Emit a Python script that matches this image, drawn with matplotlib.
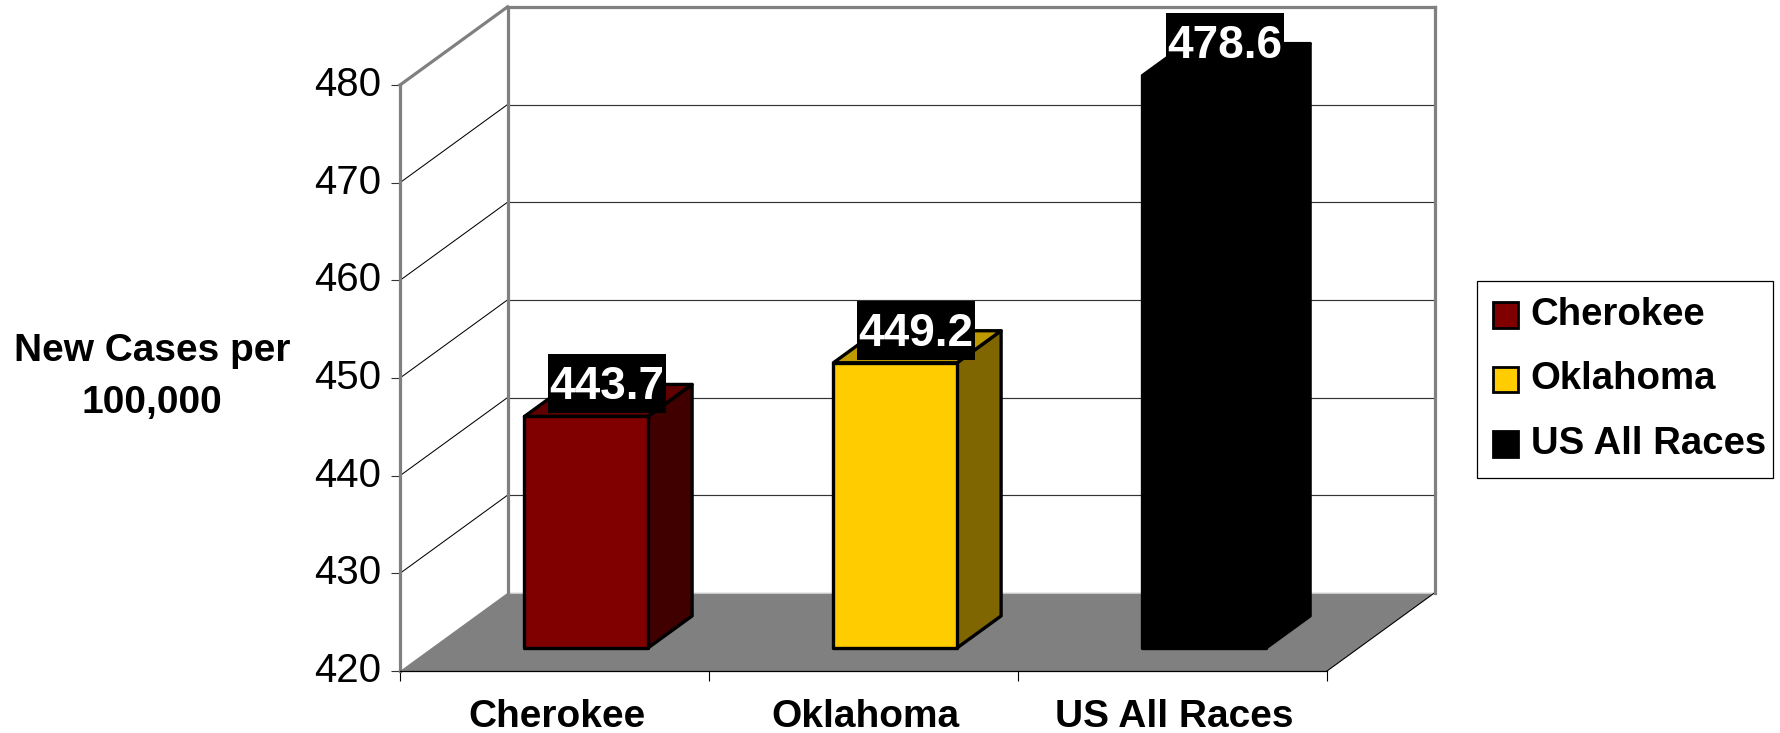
import matplotlib
matplotlib.use("Agg")
import matplotlib.pyplot as plt
from matplotlib.patches import Patch, Polygon
from matplotlib.path import Path
from matplotlib.transforms import ScaledTranslation

categories = ["Cherokee", "Oklahoma", "US All Races"]
values = [443.7, 449.2, 478.6]
y_ticks = [420, 430, 440, 450, 460, 470, 480]

front_colors = ["#800000", "#FFCC00", "#000000"]
side_colors = ["#400000", "#806600", "#000000"]
top_colors = ["#600000", "#BF9900", "#000000"]

# the fake 3D: how far the back of the box shifts, in data units
DEPTH_X = 0.348
DEPTH_Y = 8.0
BAR_WIDTH = 0.4
BAR_D0 = 0.295
BAR_D1 = 0.705

WALL = "#808080"
FONT = "Liberation Sans"

plt.rcParams["font.family"] = FONT


def project(x, v, d):
    """Category position, value and depth (0 front, 1 back) to data coordinates."""
    return x + d * DEPTH_X, v + d * DEPTH_Y


def face(ax, corners, color, edge, lw, zorder):
    ax.add_patch(Polygon([project(*c) for c in corners], closed=True, facecolor=color,
                         edgecolor=edge, linewidth=lw, joinstyle="round",
                         clip_on=False, zorder=zorder))


def line3d(ax, a, b, color, lw, zorder=2):
    pa, pb = project(*a), project(*b)
    ax.plot([pa[0], pb[0]], [pa[1], pb[1]], color=color, linewidth=lw,
            solid_capstyle="projecting", clip_on=False, zorder=zorder)


def label_box(x0, y0, width, height, size):
    """Data label background: tight at the sides, more room above the digits than below."""
    pad_x = 0.03 * size
    x1, y1 = x0 + width + pad_x, y0 + height + 0.24 * size
    x0, y0 = x0 - pad_x, y0 - 0.09 * size
    return Path([(x0, y0), (x1, y0), (x1, y1), (x0, y1), (x0, y0)], closed=True)


def draw_box(ax):
    n = len(categories)
    low, high = y_ticks[0], y_ticks[-1]
    face(ax, [(0, low, 0), (n, low, 0), (n, low, 1), (0, low, 1)], WALL, "none", 0, 1)

    for v in y_ticks[1:-1]:
        line3d(ax, (0, v, 0), (0, v, 1), "#000000", 0.75)
        line3d(ax, (0, v, 1), (n, v, 1), "#333333", 0.85)

    # light edge where the floor meets the back wall
    line3d(ax, (0, low, 1), (n, low, 1), "#C8C8C8", 0.8, zorder=1.5)
    line3d(ax, (n, low, 0), (n, low, 1), "#000000", 0.8)

    line3d(ax, (0, low, 1), (0, high, 1), WALL, 2.3)
    line3d(ax, (n, low, 1), (n, high, 1), WALL, 2.3)
    line3d(ax, (0, high, 0), (0, high, 1), WALL, 2.3)
    line3d(ax, (0, high, 1), (n, high, 1), WALL, 2.3)


def draw_bars(ax):
    low = y_ticks[0]
    for i, v in enumerate(values):
        x0 = i + 0.5 - BAR_WIDTH / 2
        x1 = i + 0.5 + BAR_WIDTH / 2
        z = 5 + i
        face(ax, [(x1, low, BAR_D0), (x1, low, BAR_D1), (x1, v, BAR_D1), (x1, v, BAR_D0)],
             side_colors[i], "#000000", 2.4, z)
        face(ax, [(x0, v, BAR_D0), (x1, v, BAR_D0), (x1, v, BAR_D1), (x0, v, BAR_D1)],
             top_colors[i], "#000000", 2.4, z)
        face(ax, [(x0, low, BAR_D0), (x1, low, BAR_D0), (x1, v, BAR_D0), (x0, v, BAR_D0)],
             front_colors[i], "#000000", 2.4, z)
        ax.annotate(f"{v:.1f}", xy=project(i + 0.5, v, 0.5), xytext=(-1, 9.5),
                    textcoords="offset points", ha="center", va="center", color="white",
                    fontsize=33, fontweight="bold", zorder=20, annotation_clip=False,
                    bbox=dict(boxstyle=label_box, facecolor="black", edgecolor="none"))


def main():
    fig = plt.figure(figsize=(17.8, 7.33), dpi=100)
    ax = fig.add_axes([400 / 1780, (733 - 671) / 733, 927 / 1780, 586 / 733])
    ax.patch.set_alpha(0)
    ax.set_xlim(0, len(categories))
    ax.set_ylim(y_ticks[0], y_ticks[-1])

    draw_box(ax)
    draw_bars(ax)

    for name in ("top", "right"):
        ax.spines[name].set_visible(False)
    ax.spines["left"].set_color(WALL)
    ax.spines["left"].set_linewidth(2.3)
    ax.spines["bottom"].set_color("#000000")
    ax.spines["bottom"].set_linewidth(0.9)
    ax.spines["left"].set_zorder(3)
    ax.spines["bottom"].set_zorder(3)

    ax.set_yticks(y_ticks)
    ax.set_yticklabels([str(t) for t in y_ticks], fontsize=29)
    ax.tick_params(axis="y", length=6.5, width=0.8, color="#333333", pad=7)
    # the numbers sit a little above their ticks
    nudge = ScaledTranslation(0, 3 / 72, fig.dpi_scale_trans)
    for label in ax.get_yticklabels():
        label.set_transform(label.get_transform() + nudge)

    ax.set_xticks(range(len(categories) + 1))
    ax.set_xticklabels([])
    ax.tick_params(axis="x", which="major", length=7, width=0.8, color="#000000")
    ax.set_xticks([i + 0.507 for i in range(len(categories))], minor=True)
    ax.set_xticklabels(categories, minor=True, fontsize=28, fontweight="bold")
    ax.tick_params(axis="x", which="minor", length=0, pad=20.5)

    ax.set_ylabel("New Cases per\n100,000", rotation=0, fontsize=28, fontweight="bold",
                  ha="center", va="center", linespacing=1.55)
    ax.yaxis.set_label_coords((152 - 400) / 927, (671 - 377) / 586)

    handles = [Patch(facecolor=c, edgecolor="#000000", linewidth=2) for c in front_colors]
    leg = fig.legend(handles, categories, loc="upper left", mode="expand",
                     bbox_to_anchor=(1477 / 1780, 1 - 476 / 733, 296 / 1780, 195 / 733),
                     borderaxespad=0, prop=dict(family=FONT, size=27.6, weight="bold"),
                     handlelength=0.64, handleheight=0.64, handletextpad=0.34,
                     labelspacing=0.74, borderpad=0.42, fancybox=False)
    leg.get_frame().set_edgecolor("#000000")
    leg.get_frame().set_linewidth(0.9)
    leg.get_frame().set_alpha(1)
    for handle in leg.legend_handles:
        handle.set_y(handle.get_y() - 2.5)

    fig.savefig("out.png", dpi=100)


if __name__ == "__main__":
    main()
